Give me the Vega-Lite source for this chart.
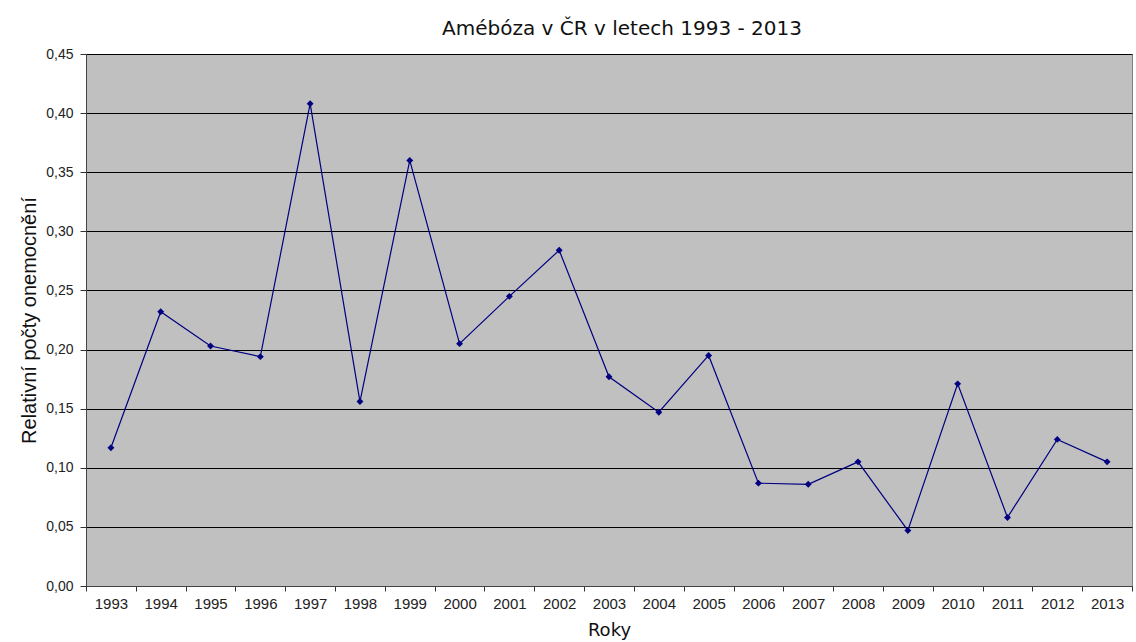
{
  "$schema": "https://vega.github.io/schema/vega-lite/v6.json",
  "width": 1046,
  "height": 532,
  "autosize": {"type": "none"},
  "padding": {"left": 86, "top": 54, "right": 4, "bottom": 56},
  "background": "white",
  "title": {
    "text": "Amébóza v ČR v letech 1993 - 2013",
    "font": "DejaVu Sans",
    "fontSize": 20,
    "fontWeight": "normal",
    "color": "#111111",
    "anchor": "middle",
    "dx": 13,
    "offset": 8
  },
  "config": {
    "view": {"fill": "#C0C0C0", "stroke": "#808080", "strokeWidth": 1},
    "axis": {
      "labelFont": "Liberation Sans",
      "titleFont": "Liberation Sans",
      "labelColor": "#222222",
      "titleColor": "#111111",
      "tickColor": "#333333",
      "domainColor": "#444444"
    }
  },
  "data": {
    "values": [
      {"rok": "1993", "hodnota": 0.117},
      {"rok": "1994", "hodnota": 0.232},
      {"rok": "1995", "hodnota": 0.203},
      {"rok": "1996", "hodnota": 0.194},
      {"rok": "1997", "hodnota": 0.408},
      {"rok": "1998", "hodnota": 0.156},
      {"rok": "1999", "hodnota": 0.360},
      {"rok": "2000", "hodnota": 0.205},
      {"rok": "2001", "hodnota": 0.245},
      {"rok": "2002", "hodnota": 0.284},
      {"rok": "2003", "hodnota": 0.177},
      {"rok": "2004", "hodnota": 0.147},
      {"rok": "2005", "hodnota": 0.195},
      {"rok": "2006", "hodnota": 0.087},
      {"rok": "2007", "hodnota": 0.086},
      {"rok": "2008", "hodnota": 0.105},
      {"rok": "2009", "hodnota": 0.047},
      {"rok": "2010", "hodnota": 0.171},
      {"rok": "2011", "hodnota": 0.058},
      {"rok": "2012", "hodnota": 0.124},
      {"rok": "2013", "hodnota": 0.105}
    ]
  },
  "encoding": {
    "x": {
      "field": "rok",
      "type": "ordinal",
      "scale": {"type": "band", "paddingInner": 0, "paddingOuter": 0},
      "axis": {
        "title": "Roky",
        "titleFont": "DejaVu Sans",
        "titleFontSize": 18,
        "titleFontWeight": "normal",
        "titlePadding": 10,
        "labelAngle": 0,
        "labelFontSize": 15,
        "labelPadding": 5,
        "tickBand": "extent",
        "tickSize": 5,
        "grid": false,
        "domain": true
      }
    },
    "y": {
      "field": "hodnota",
      "type": "quantitative",
      "scale": {"domain": [0, 0.45], "nice": false, "zero": true},
      "axis": {
        "title": "Relativní počty onemocnění",
        "titleFontSize": 20,
        "titleFontWeight": "normal",
        "titlePadding": 6,
        "values": [0, 0.05, 0.1, 0.15, 0.2, 0.25, 0.3, 0.35, 0.4, 0.45],
        "labelExpr": "replace(format(datum.value, '.2f'), '.', ',')",
        "labelFontSize": 14,
        "labelPadding": 7,
        "tickSize": 6,
        "grid": true,
        "gridColor": "#000000",
        "gridOpacity": 1,
        "gridWidth": 1,
        "domain": true
      }
    }
  },
  "layer": [
    {"mark": {"type": "line", "color": "#000080", "strokeWidth": 1.2}},
    {"mark": {"type": "point", "shape": "diamond", "filled": true, "color": "#000080", "size": 48, "opacity": 1}}
  ]
}
